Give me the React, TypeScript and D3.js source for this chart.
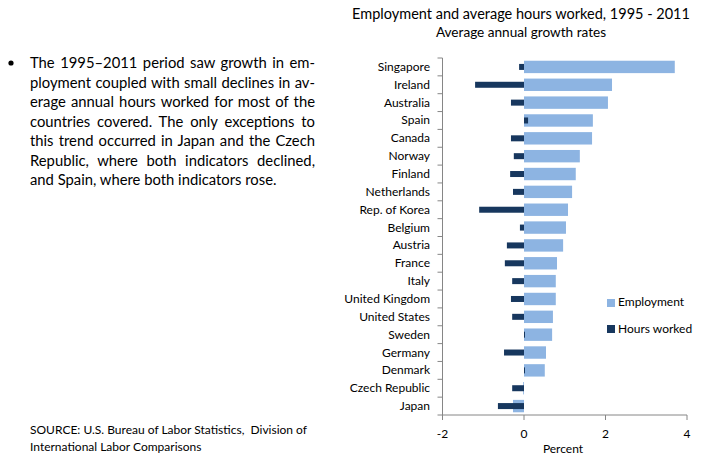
import React, { useEffect, useRef } from "react";
import * as d3 from "d3";

const countries = [
  "Singapore", "Ireland", "Australia", "Spain", "Canada", "Norway", "Finland",
  "Netherlands", "Rep. of Korea", "Belgium", "Austria", "France", "Italy",
  "United Kingdom", "United States", "Sweden", "Germany", "Denmark",
  "Czech Republic", "Japan",
];
const employment = [
  3.7, 2.16, 2.06, 1.69, 1.67, 1.37, 1.27, 1.18, 1.08, 1.03, 0.96, 0.81, 0.78,
  0.78, 0.71, 0.69, 0.54, 0.51, -0.02, -0.27,
];
const hoursWorked = [
  -0.12, -1.2, -0.32, 0.1, -0.32, -0.25, -0.34, -0.27, -1.1, -0.1, -0.42,
  -0.47, -0.29, -0.32, -0.29, 0.02, -0.49, 0.02, -0.29, -0.64,
];
const xTicks = [-2, 0, 2, 4];

const paragraph = [
  "The 1995\u20132011 period saw growth in em-",
  "ployment coupled with small declines in av-",
  "erage annual hours worked for most of the",
  "countries covered. The only exceptions to",
  "this trend occurred in Japan and the Czech",
  "Republic, where both indicators declined,",
  "and Spain, where both indicators rose.",
];
const sourceLines = [
  "SOURCE: U.S. Bureau of Labor Statistics,  Division of",
  "International Labor Comparisons",
];

const FONT = "Lato, 'Open Sans', sans-serif";
const LIGHT = "#8db4e2";
const DARK = "#17375e";
const AXIS = "#868686";

export default function App() {
  const textRef = useRef<SVGGElement>(null);

  // stretch word spacing so every line but the last fills the column
  useEffect(() => {
    if (!textRef.current) return;
    const colWidth = 285;
    d3.select(textRef.current)
      .selectAll<SVGTextElement, string>("text.para")
      .each(function (d, i) {
        if (i === paragraph.length - 1) return;
        const w = this.getComputedTextLength();
        const spaces = (paragraph[i].match(/ /g) || []).length;
        if (spaces > 0) {
          d3.select(this).attr("word-spacing", (colWidth - w) / spaces);
        }
      });
  }, []);

  const x = d3.scaleLinear().domain([-2, 4]).range([442.5, 687]);
  const y = d3.scaleBand<string>().domain(countries).range([58, 415]);
  const bw = y.bandwidth();
  const empH = 12.4;
  const hrsH = 6;

  return (
    <svg width={702} height={474} style={{ position: "absolute", left: 0, top: 0 }} fontFamily={FONT}>
      <rect width={702} height={474} fill="#fff" />

      <g ref={textRef} fill="#000" fontSize={14.8}>
        <circle cx={11} cy={63} r={2.6} fill="#000" />
        {paragraph.map((line, i) => (
          <text key={i} className="para" x={30} y={68 + i * 19.5}>
            {line}
          </text>
        ))}
      </g>

      <g fontSize={12} fill="#000">
        {sourceLines.map((line, i) => (
          <text key={i} x={30} y={434 + i * 17} style={{ whiteSpace: "pre" }}>
            {line}
          </text>
        ))}
      </g>

      <text x={521} y={19} textAnchor="middle" fontSize={14.5}>
        Employment and average hours worked, 1995 - 2011
      </text>
      <text x={521} y={37} textAnchor="middle" fontSize={13.6}>
        Average annual growth rates
      </text>

      {/* employment bars */}
      {countries.map((c, i) => (
        <rect
          key={"e" + c}
          x={Math.min(x(0), x(employment[i]))}
          y={y(c)! + bw / 2 - empH / 2}
          width={Math.abs(x(employment[i]) - x(0))}
          height={empH}
          fill={LIGHT}
        />
      ))}
      {/* hours worked bars */}
      {countries.map((c, i) => (
        <rect
          key={"h" + c}
          x={Math.min(x(0), x(hoursWorked[i]))}
          y={y(c)! + bw / 2 - hrsH / 2}
          width={Math.max(1, Math.abs(x(hoursWorked[i]) - x(0)))}
          height={hrsH}
          fill={DARK}
        />
      ))}

      {/* y axis */}
      <g stroke={AXIS} strokeWidth={1}>
        <line x1={x(-2)} x2={x(-2)} y1={58} y2={415} />
        {countries.concat([""]).map((c, i) => {
          const yy = 58 + i * y.step();
          return <line key={"t" + i} x1={x(-2) - 5} x2={x(-2)} y1={yy} y2={yy} />;
        })}
        <line x1={x(-2)} x2={x(4)} y1={415} y2={415} />
        {xTicks.map((t) => (
          <line key={"xt" + t} x1={x(t)} x2={x(t)} y1={415} y2={420} />
        ))}
      </g>

      <g fontSize={12} fill="#000">
        {countries.map((c) => (
          <text key={"l" + c} x={430} y={y(c)! + bw / 2 + 4} textAnchor="end">
            {c}
          </text>
        ))}
        {xTicks.map((t) => (
          <text key={"xl" + t} x={x(t)} y={438} textAnchor="middle">
            {t}
          </text>
        ))}
        <text x={563} y={453} textAnchor="middle">Percent</text>
      </g>

      {/* legend */}
      <g fontSize={12}>
        <rect x={607} y={299} width={8} height={8} fill={LIGHT} />
        <text x={618} y={306}>Employment</text>
        <rect x={607} y={325} width={8} height={8} fill={DARK} />
        <text x={618} y={333}>Hours worked</text>
      </g>
    </svg>
  );
}
